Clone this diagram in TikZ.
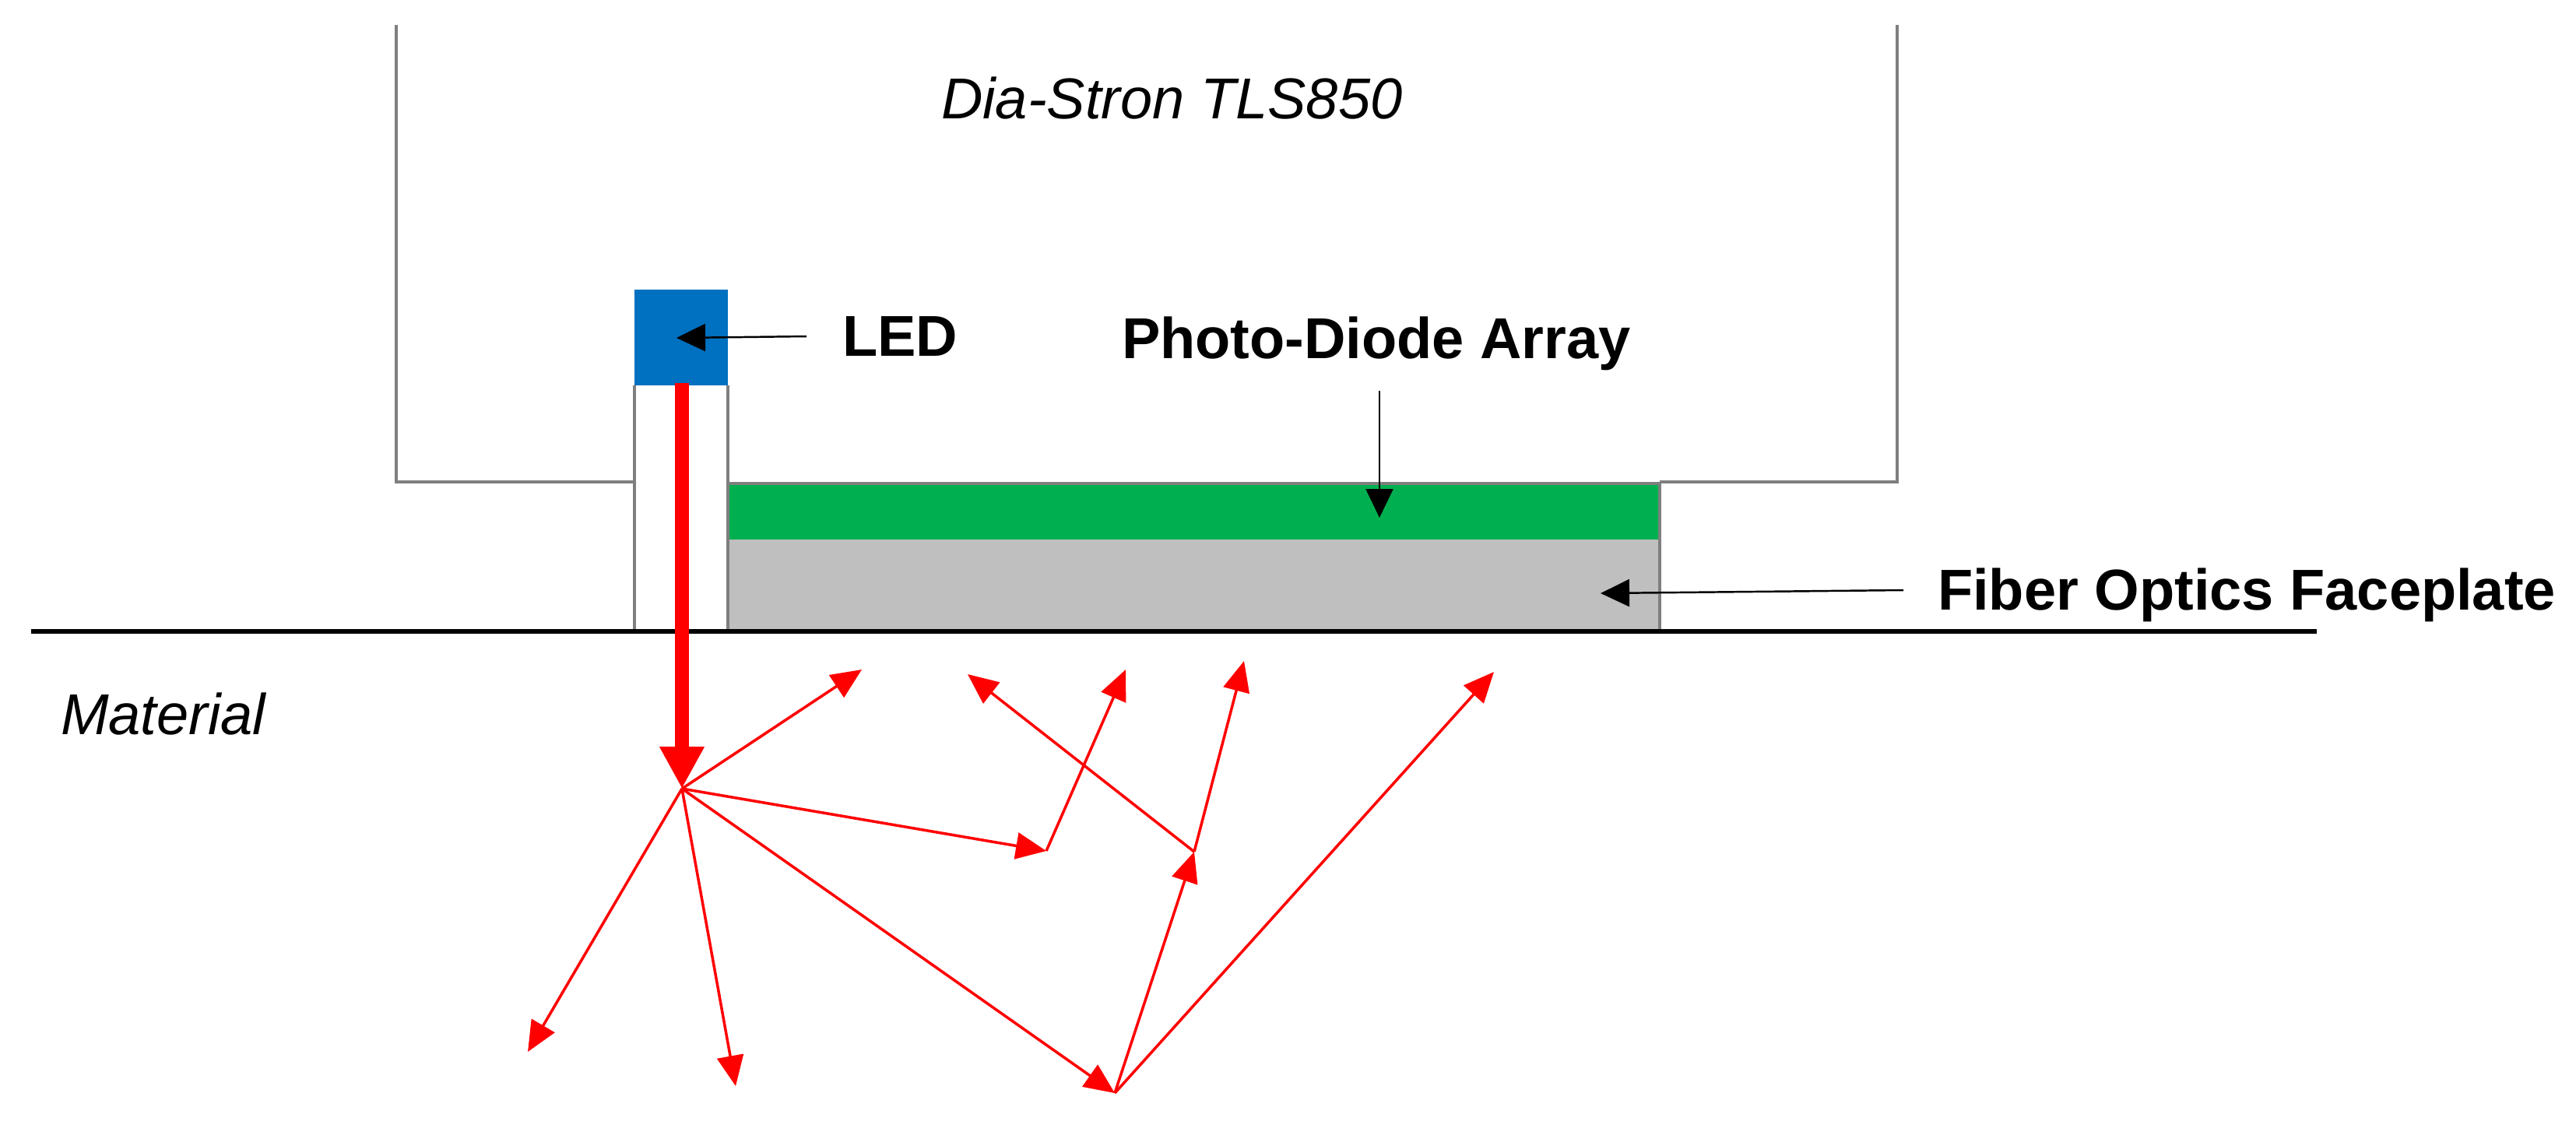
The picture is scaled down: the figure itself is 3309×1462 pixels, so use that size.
\documentclass[tikz,border=0pt]{standalone}
\usepackage{fontspec}
\setmainfont{Liberation Sans}
\usetikzlibrary{arrows.meta, positioning}
\definecolor{ledblue}{HTML}{0070C0}
\definecolor{diodegreen}{HTML}{00B050}
\definecolor{plategray}{HTML}{BFBFBF}
\definecolor{wallgray}{HTML}{7F7F7F}

\begin{document}
\begin{tikzpicture}[
        x=0.01cm, y=-0.01cm,
        every node/.style={inner sep=0pt, outer sep=0pt, anchor=base west},
        wall/.style={draw=wallgray, line width=0.9pt},
        boldlabel/.style={font=\fontsize{21.05}{25}\selectfont\bfseries},
        italiclabel/.style={font=\fontsize{21.05}{25}\selectfont\itshape},
        pointer/.style={-{Triangle[length=0.37cm,width=0.35cm]}, black, line width=0.7pt},
        ray/.style={-{Triangle[length=0.39cm,width=0.34cm]}, red, line width=1pt},
    ]
    \useasboundingbox (0,0) rectangle (3309,1462);
    % Coordinates
    \coordinate (F) at (876,1013);
    \coordinate (B) at (1344,1093);
    \coordinate (M) at (1534,1094);
    \coordinate (H) at (1432,1404);
    % Nodes
    \node (device) at (1209,152) [italiclabel] {Dia-Stron TLS850};
    \node (material) at (78,943) [italiclabel] {Material};
    \node (ledlabel) at (1082,457) [boldlabel] {LED};
    \node (pdlabel) at (1441,460) [boldlabel] {Photo-Diode Array};
    \node (fiberlabel) at (2489,783) [boldlabel] {Fiber Optics Faceplate};
    % Housing and parts
    \draw[wall] (509,32) -- (509,619) -- (815,619);
    \draw[wall] (2132,619) -- (2437,619) -- (2437,32);
    \draw[wall] (815,495) -- (815,808);
    \draw[wall] (935,495) -- (935,808);
    \fill[ledblue] (815,372) rectangle (935,495);
    \fill[diodegreen] (935,621) rectangle (2132,693);
    \fill[plategray] (935,693) rectangle (2132,808);
    \draw[wall] (935,621) -- (2132,621);
    \draw[wall] (935,808) -- (935,621);
    \draw[wall] (2132,621) -- (2132,808);
    \draw[line width=1.9pt] (40,811) -- (2976,811);
    % Arrows
    \draw[pointer] (1036,432) -- (869,434);
    \draw[pointer] (1772,502) -- (1772,665);
    \draw[pointer] (2445,758) -- (2056,762);
    \draw[-{Triangle[length=0.54cm,width=0.54cm]}, red, line width=5.1pt] (876,492) -- (F);
    \draw[ray] (F) -- (1107,860);
    \draw[ray] (F) -- (B);
    \draw[ray] (B) -- (1446,860);
    \draw[ray] (M) -- (1243,866);
    \draw[ray] (M) -- (1598,849);
    \draw[ray] (F) -- (H);
    \draw[ray] (H) -- (M);
    \draw[ray] (H) -- (1919,863);
    \draw[ray] (F) -- (678,1351);
    \draw[ray] (F) -- (945,1395);
\end{tikzpicture}
\end{document}
